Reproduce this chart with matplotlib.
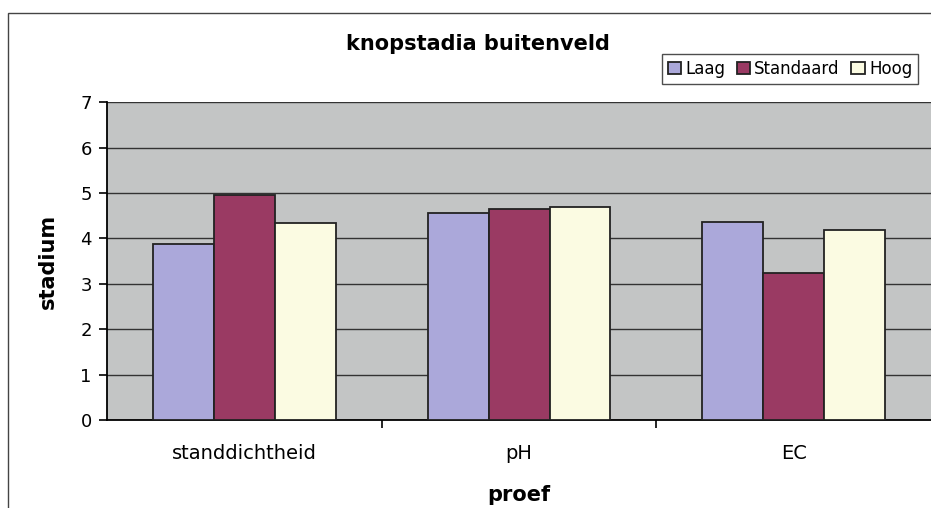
import numpy as np
import matplotlib.pyplot as plt
from matplotlib.patches import Rectangle

categories = ["standdichtheid", "pH", "EC"]
series = ["Laag", "Standaard", "Hoog"]
laag = [3.88, 4.55, 4.35]
standaard = [4.95, 4.64, 3.24]
hoog = [4.33, 4.70, 4.18]
colors = ["#aba8da", "#9a3a63", "#fbfbe2"]

narrow = ["Liberation Sans Narrow", "DejaVu Sans"]

fig = plt.figure(figsize=(9.31, 5.08), dpi=100, facecolor="w")
ax = fig.add_axes([0.115, 0.173, 0.885, 0.626])
ax.set_facecolor("#c3c5c5")

x = np.arange(len(categories))
w = 0.222
for i, (name, vals) in enumerate(zip(series, [laag, standaard, hoog])):
    ax.bar(x + (i - 1) * w, vals, width=w, color=colors[i], edgecolor="#222222",
           linewidth=1.3, label=name, zorder=3)

ax.set_xlim(-0.5, 2.5)
ax.set_ylim(0, 7)
ax.set_yticks(range(0, 8))
ax.yaxis.grid(True, color="#333333", linewidth=1.0, zorder=0)
ax.set_axisbelow(True)
ax.set_xticks([0.5, 1.5])
ax.set_xticklabels([])
ax.set_xticks(x, minor=True)
ax.set_xticklabels(categories, minor=True, fontsize=14, family="DejaVu Sans")
ax.tick_params(axis="x", which="minor", length=0, pad=17)
ax.tick_params(axis="x", which="major", length=6, width=1.2, direction="out")
ax.tick_params(axis="y", length=6, width=1.2, labelsize=13, pad=5)
for s in ["top", "right"]:
    ax.spines[s].set_visible(False)
ax.spines["left"].set_linewidth(1.3)
ax.spines["bottom"].set_linewidth(1.3)

ax.set_ylabel("stadium", fontsize=15, fontweight="bold", labelpad=16, family=narrow)
ax.set_xlabel("proef", fontsize=15, fontweight="bold", labelpad=16, family=narrow)
fig.text(0.513, 0.913, "knopstadia buitenveld", fontsize=15, fontweight="bold",
         ha="center", va="center", family=narrow)

leg = fig.legend(loc="upper right", bbox_to_anchor=(0.986, 0.894), ncol=3,
                 frameon=True, fancybox=False, edgecolor="#222222",
                 prop={"size": 12, "family": "DejaVu Sans"},
                 handlelength=0.8, handleheight=0.8, handletextpad=0.25,
                 columnspacing=0.7, borderpad=0.35, borderaxespad=0)
leg.get_frame().set_linewidth(1.0)

# outer chart frame
fig.patches.append(Rectangle((0.009, -0.1), 1.2, 1.075, transform=fig.transFigure,
                             fill=False, edgecolor="#444444", linewidth=1.0))

plt.savefig("out.png", dpi=100)
